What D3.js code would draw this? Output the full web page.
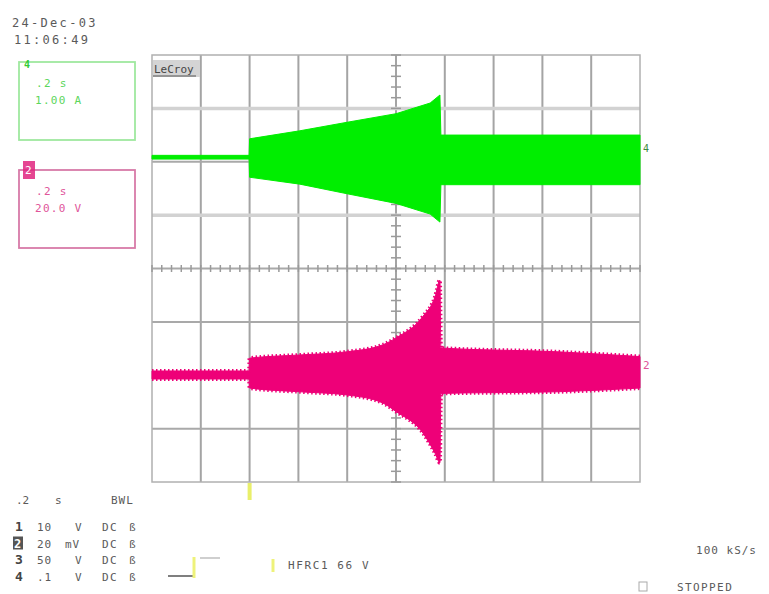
<!DOCTYPE html>
<html>
<head>
<meta charset="utf-8">
<script src="https://cdn.jsdelivr.net/npm/d3@7"></script>
<style>
  html, body { margin: 0; padding: 0; background: #fff; }
  svg { display: block; }
  text { font-family: "DejaVu Sans Mono", monospace; }
</style>
</head>
<body>
<svg id="scope" width="769" height="594"></svg>
<script>
// ---- Acquisition data: time in seconds (0.2 s/div), amplitude in screen divisions ----
const gridXDivs = d3.range(0, 11).map(d => d * 0.2);      // 10 horizontal divisions
const gridYDivs = d3.range(-4, 5);                          // 8 vertical divisions

// Channel 4 (current, 1.00 A/div) envelope
const ch4Time  = [0, 0.398, 0.400, 0.606, 0.800, 1.000, 1.140, 1.180, 1.184, 2.000];
const ch4Upper = [2.12, 2.12, 2.43, 2.58, 2.74, 2.90, 3.10, 3.25, 2.50, 2.50];
const ch4Lower = [2.05, 2.05, 1.71, 1.58, 1.40, 1.22, 1.02, 0.87, 1.57, 1.57];

// Channel 2 (voltage, 20.0 V/div) envelope
const ch2Time  = [0, 0.398, 0.400, 0.606, 0.800, 0.946, 1.000, 1.110, 1.160, 1.180, 1.184, 1.660, 2.000];
const ch2Upper = [-1.92, -1.92, -1.68, -1.62, -1.56, -1.43, -1.30, -0.90, -0.53, -0.22, -1.49, -1.56, -1.65];
const ch2Lower = [-2.07, -2.07, -2.24, -2.31, -2.37, -2.52, -2.68, -3.08, -3.46, -3.64, -2.34, -2.31, -2.24];

const triggerTime = 0.4;

// Header / labels
const dateLines = ["24-Dec-03", "11:06:49"];
const traceBoxes = [
  { id: "4", lines: [".2 s", "1.00 A"], stroke: "#9fe89f", text: "#5cd65c", mark: "#33cc33" },
  { id: "2", lines: [".2 s", "20.0 V"], stroke: "#d77aa8", text: "#e0559a", mark: "#e0267f" }
];
const timebaseRow = [".2", "s", "BWL"];
const channelRows = [
  { ch: "1", value: "10", unit: "V",  coupling: "DC", term: "ß" },
  { ch: "2", value: "20", unit: "mV", coupling: "DC", term: "ß" },
  { ch: "3", value: "50", unit: "V",  coupling: "DC", term: "ß" },
  { ch: "4", value: ".1", unit: "V",  coupling: "DC", term: "ß" }
];
const triggerLabel = "HFRC1 66 V";
const sampleRate = "100 kS/s";
const runState = "STOPPED";

// ---- Layout ----
const svg = d3.select("#scope");
const grid = { left: 152, right: 640, top: 55, bottom: 482 };
const x = d3.scaleLinear().domain([0, 2]).range([grid.left, grid.right]);
const y = d3.scaleLinear().domain([-4, 4]).range([grid.bottom, grid.top]);

const GREEN = "#00ee00";
const PINK = "#ee0078";
const TEXT = "#5a5a5a";

// ---- Graticule ----
const g = svg.append("g");
g.selectAll("line.v").data(gridXDivs.slice(1, -1)).join("line")
  .attr("x1", d => x(d)).attr("x2", d => x(d))
  .attr("y1", grid.top).attr("y2", grid.bottom)
  .attr("stroke", "#a4a4a4").attr("stroke-width", 2);

g.selectAll("line.h").data(gridYDivs.slice(1, -1)).join("line")
  .attr("x1", grid.left).attr("x2", grid.right)
  .attr("y1", d => y(d)).attr("y2", d => y(d))
  .attr("stroke", d => (d === 1 || d === 3) ? "#d2d2d2" : "#a9a9a9")
  .attr("stroke-width", d => (d === 1 || d === 3) ? 3.5 : 2);

g.append("rect")
  .attr("x", grid.left).attr("y", grid.top)
  .attr("width", grid.right - grid.left).attr("height", grid.bottom - grid.top)
  .attr("fill", "none").attr("stroke", "#b0b0b0").attr("stroke-width", 1.5);

// minor ticks on the centre cross
const minorX = d3.range(0, 2.0001, 0.04);
const minorY = d3.range(-4, 4.0001, 0.2);
g.selectAll("line.mx").data(minorX).join("line")
  .attr("x1", d => x(d)).attr("x2", d => x(d))
  .attr("y1", y(0) - 3.5).attr("y2", y(0) + 3.5)
  .attr("stroke", "#9a9a9a").attr("stroke-width", 1.5);
g.selectAll("line.my").data(minorY).join("line")
  .attr("x1", x(1) - 5).attr("x2", x(1) + 5)
  .attr("y1", d => y(d)).attr("y2", d => y(d))
  .attr("stroke", "#9a9a9a").attr("stroke-width", 1.5);

// ---- Traces ----
function drawTrace(time, upper, lower, color, curve, fringe) {
  const pts = time.map((t, i) => ({ t, u: upper[i], l: lower[i] }));
  const area = d3.area().curve(curve)
    .x(d => x(d.t)).y0(d => y(d.l)).y1(d => y(d.u));
  svg.append("path").datum(pts).attr("d", area).attr("fill", color)
    .attr("stroke", color).attr("stroke-width", 1);
  if (fringe) {
    ["u", "l"].forEach(k => {
      const line = d3.line().curve(curve).x(d => x(d.t)).y(d => y(d[k]));
      svg.append("path").datum(pts).attr("d", line)
        .attr("fill", "none").attr("stroke", color)
        .attr("stroke-width", 4).attr("stroke-dasharray", "1.5,2.5");
    });
  }
}
drawTrace(ch4Time, ch4Upper, ch4Lower, GREEN, d3.curveLinear, false);
drawTrace(ch2Time, ch2Upper, ch2Lower, PINK, d3.curveMonotoneX, true);

// channel markers at the right edge
svg.append("text").attr("x", grid.right + 3).attr("y", y(ch4Upper[ch4Upper.length - 1]) + 17)
  .attr("font-size", 10).attr("fill", "#3c8a3c").text("4");
svg.append("text").attr("x", grid.right + 3).attr("y", y(ch2Upper[ch2Upper.length - 1]) + 12)
  .attr("font-size", 11).attr("fill", "#e0559a").text("2");

// trigger position marker under the graticule
svg.append("line")
  .attr("x1", x(triggerTime)).attr("x2", x(triggerTime))
  .attr("y1", grid.bottom + 1).attr("y2", grid.bottom + 18)
  .attr("stroke", "#e9ef6a").attr("stroke-width", 4);

// LeCroy tag
svg.append("rect").attr("x", 153).attr("y", 60).attr("width", 47).attr("height", 17)
  .attr("fill", "#d4d4d4");
svg.append("text").attr("x", 154).attr("y", 73).attr("font-size", 11)
  .attr("fill", "#444").text("LeCroy");
svg.append("line").attr("x1", 153).attr("x2", 196).attr("y1", 76).attr("y2", 76)
  .attr("stroke", "#555").attr("stroke-width", 1);

// ---- Date / time ----
svg.selectAll("text.date").data(dateLines).join("text")
  .attr("x", (d, i) => i === 0 ? 12 : 14).attr("y", (d, i) => 27 + i * 17)
  .attr("font-size", 12).attr("letter-spacing", 2.3).attr("fill", TEXT)
  .text(d => d);

// ---- Trace boxes ----
traceBoxes.forEach((b, i) => {
  const top = 62 + i * 108;
  svg.append("rect").attr("x", 19).attr("y", top).attr("width", 116).attr("height", 78)
    .attr("fill", "none").attr("stroke", b.stroke).attr("stroke-width", 1.8);
  if (i === 0) {
    svg.append("text").attr("x", 24).attr("y", top + 6).attr("font-size", 10)
      .attr("font-weight", "bold").attr("fill", b.mark).text(b.id);
  } else {
    svg.append("rect").attr("x", 23).attr("y", top - 9).attr("width", 12).attr("height", 18)
      .attr("fill", b.mark).attr("opacity", 0.85);
    svg.append("text").attr("x", 25).attr("y", top + 4).attr("font-size", 11)
      .attr("fill", "#fff").text(b.id);
  }
  b.lines.forEach((t, j) => {
    svg.append("text").attr("x", j === 0 ? 36 : 35).attr("y", top + 25 + j * 17)
      .attr("font-size", 11).attr("letter-spacing", 1.3).attr("fill", b.text).text(t);
  });
});

// ---- Bottom status block ----
const colX = [15, 37, 75, 102, 129];
svg.append("text").attr("x", 16).attr("y", 504).attr("font-size", 11).attr("fill", TEXT).text(timebaseRow[0]);
svg.append("text").attr("x", 55).attr("y", 504).attr("font-size", 11).attr("fill", TEXT).text(timebaseRow[1]);
svg.append("text").attr("x", 111).attr("y", 504).attr("font-size", 11).attr("letter-spacing", 1)
  .attr("fill", TEXT).text(timebaseRow[2]);

channelRows.forEach((r, i) => {
  const yy = 531 + i * 16.5;
  if (r.ch === "2") {
    svg.append("rect").attr("x", 13).attr("y", yy - 11).attr("width", 10).attr("height", 13).attr("fill", "#555");
    svg.append("text").attr("x", 14).attr("y", yy).attr("font-size", 12).attr("font-weight", "bold")
      .attr("fill", "#fff").text(r.ch);
  } else {
    svg.append("text").attr("x", colX[0]).attr("y", yy).attr("font-size", 13).attr("font-weight", "bold")
      .attr("fill", "#444").text(r.ch);
  }
  svg.append("text").attr("x", colX[1]).attr("y", yy).attr("font-size", 11).attr("letter-spacing", 1)
    .attr("fill", TEXT).text(r.value);
  svg.append("text").attr("x", r.unit === "mV" ? 65 : colX[2]).attr("y", yy).attr("font-size", 11)
    .attr("letter-spacing", 1).attr("fill", TEXT).text(r.unit);
  svg.append("text").attr("x", colX[3]).attr("y", yy).attr("font-size", 11).attr("letter-spacing", 1.5)
    .attr("fill", TEXT).text(r.coupling);
  svg.append("text").attr("x", colX[4]).attr("y", yy).attr("font-size", 11)
    .attr("fill", TEXT).text(r.term);
});

// trigger slope symbol
svg.append("line").attr("x1", 168).attr("x2", 193).attr("y1", 576).attr("y2", 576)
  .attr("stroke", "#555").attr("stroke-width", 1.5);
svg.append("line").attr("x1", 194).attr("x2", 194).attr("y1", 557).attr("y2", 578)
  .attr("stroke", "#eef27a").attr("stroke-width", 3);
svg.append("line").attr("x1", 200).attr("x2", 220).attr("y1", 558).attr("y2", 558)
  .attr("stroke", "#cfcfcf").attr("stroke-width", 2);
svg.append("line").attr("x1", 273).attr("x2", 273).attr("y1", 559).attr("y2", 572)
  .attr("stroke", "#eef27a").attr("stroke-width", 3);
svg.append("text").attr("x", 288).attr("y", 569).attr("font-size", 11).attr("letter-spacing", 1.6)
  .attr("fill", TEXT).text(triggerLabel);

// sample rate and run state
svg.append("text").attr("x", 757).attr("y", 554).attr("text-anchor", "end")
  .attr("font-size", 11).attr("letter-spacing", 1).attr("fill", TEXT).text(sampleRate);
svg.append("rect").attr("x", 639).attr("y", 582).attr("width", 8).attr("height", 9)
  .attr("fill", "none").attr("stroke", "#aaa").attr("stroke-width", 1);
svg.append("text").attr("x", 677).attr("y", 591)
  .attr("font-size", 11).attr("letter-spacing", 1.4).attr("fill", TEXT).text(runState);
</script>
</body>
</html>
